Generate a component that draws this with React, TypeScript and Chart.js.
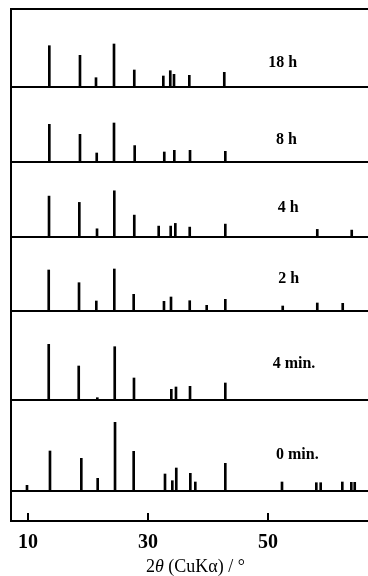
import React, { useEffect, useRef } from "react";
import { Chart, registerables } from "chart.js";

Chart.register(...registerables);

// ---- Data (2θ positions in degrees, relative intensities in arb. units) ----
const panelLabels = ["18 h", "8 h", "4 h", "2 h", "4 min.", "0 min."];

const pos18h = [13.57, 18.68, 21.35, 24.35, 27.73, 32.57, 33.73, 34.35, 36.9, 42.73];
const int18h = [41.3, 31.7, 9.3, 43, 17, 11, 16.3, 12.7, 11.7, 14.7];

const pos8h = [13.57, 18.68, 21.47, 24.35, 27.8, 32.73, 34.4, 37.02, 42.9];
const int8h = [38, 28, 9.3, 39.3, 16.7, 10.3, 12, 12, 11];

const pos4h = [13.52, 18.57, 21.52, 24.4, 27.73, 31.8, 33.8, 34.57, 36.97, 42.9, 58.23, 63.97];
const int4h = [40.5, 34.2, 7.8, 45.8, 21.5, 10.5, 10.5, 13.2, 9.5, 12.5, 7.2, 6.5];

const pos2h = [13.47, 18.52, 21.4, 24.4, 27.63, 32.68, 33.85, 36.97, 39.8, 42.9, 52.47, 58.23, 62.47];
const int2h = [40.7, 28, 9.7, 41.7, 16.4, 9.4, 13.7, 10, 5.4, 11.4, 4.7, 7.7, 7.4];

const pos4min = [13.47, 18.47, 21.57, 24.47, 27.68, 33.9, 34.68, 37.02, 42.9];
const int4min = [56, 34.3, 2.6, 53.6, 22.3, 11, 13.3, 14, 17.3];

const pos0min = [9.85, 13.68, 18.9, 21.63, 24.52, 27.63, 32.85, 34.07, 34.73, 37.07, 37.9, 42.9, 52.35, 58.07, 58.8, 62.4, 63.9, 64.47];
const int0min = [6, 40.3, 33, 13, 69, 40, 17.3, 10.6, 23.3, 18, 9.3, 28, 9.3, 8.6, 8.6, 9.3, 9, 9];

const xTicks = [10, 30, 50];

// ---- Layout (stack offsets of each panel on the shared y scale) ----
const BASELINES = [434, 358.7, 284.4, 210.3, 120.7, 29.7];
const FRAME_LINES = [0, ...BASELINES, 512];
const LABEL_X = [50.07, 51.35, 51.63, 51.73, 50.8, 51.35];
const LABEL_DY = [19.7, 18, 24.6, 28, 32, 32.6];
const X_MIN = (11 + 32.1) / 6;
const X_MAX = (368 + 32.1) / 6;

const panelPositions = [pos18h, pos8h, pos4h, pos2h, pos4min, pos0min];
const panelIntensities = [int18h, int8h, int4h, int2h, int4min, int0min];

const decorPlugin = {
  id: "decor",
  afterDraw(chart: any) {
    const { ctx, chartArea } = chart;
    const x = chart.scales.x;
    const y = chart.scales.y;
    ctx.save();
    ctx.strokeStyle = "#000";
    ctx.lineWidth = 2;
    xTicks.forEach((t) => {
      const px = Math.round(x.getPixelForValue(t));
      ctx.beginPath();
      ctx.moveTo(px, chartArea.bottom);
      ctx.lineTo(px, chartArea.bottom - 8);
      ctx.stroke();
    });
    ctx.fillStyle = "#000";
    ctx.font = 'bold 16px "Liberation Serif", "Times New Roman", serif';
    ctx.textAlign = "left";
    ctx.textBaseline = "alphabetic";
    panelLabels.forEach((lab, i) => {
      ctx.fillText(
        lab,
        x.getPixelForValue(LABEL_X[i]),
        y.getPixelForValue(BASELINES[i] + LABEL_DY[i])
      );
    });
    // axis title
    const parts: [string, string][] = [
      ["2", '18px "Liberation Serif", serif'],
      ["θ", 'italic 18px "Liberation Serif", serif'],
      [" (CuKα) / °", '18px "Liberation Serif", serif'],
    ];
    let cx = 146;
    const by = 572;
    parts.forEach(([t, f]) => {
      ctx.font = f;
      ctx.fillText(t, cx, by);
      cx += ctx.measureText(t).width;
    });
    ctx.restore();
  },
};

export default function App() {
  const ref = useRef<HTMLCanvasElement | null>(null);

  useEffect(() => {
    if (!ref.current) return;
    const datasets = panelPositions.map((pos, i) => ({
      label: panelLabels[i],
      data: pos.map((p, j) => ({ x: p, y: [BASELINES[i], BASELINES[i] + panelIntensities[i][j]] })),
      backgroundColor: "#000",
      borderWidth: 0,
      barThickness: 2,
      grouped: false,
    }));
    const chart = new Chart(ref.current, {
      type: "bar",
      data: { datasets } as any,
      plugins: [decorPlugin],
      options: {
        animation: false,
        responsive: false,
        layout: { padding: { left: 11, top: 9, right: 0, bottom: 0 } },
        plugins: { legend: { display: false }, tooltip: { enabled: false } },
        scales: {
          x: {
            type: "linear",
            min: X_MIN,
            max: X_MAX,
            offset: false,
            grid: { display: false, drawTicks: false, offset: false },
            border: { display: false },
            afterBuildTicks: (s: any) => {
              s.ticks = xTicks.map((v) => ({ value: v }));
            },
            afterFit: (s: any) => {
              s.height = 55;
            },
            ticks: {
              padding: 10,
              color: "#000",
              maxRotation: 0,
              autoSkip: false,
              font: { family: '"Liberation Serif", "Times New Roman", serif', size: 20, weight: "bold" },
            },
          },
          y: {
            type: "linear",
            min: 0,
            max: 512,
            afterBuildTicks: (s: any) => {
              s.ticks = FRAME_LINES.map((v) => ({ value: v }));
            },
            afterFit: (s: any) => {
              s.width = 0;
            },
            ticks: { display: false },
            grid: { color: "#000", lineWidth: 2, drawTicks: false },
            border: { display: true, color: "#000", width: 2 },
          },
        },
      } as any,
    });
    return () => chart.destroy();
  }, []);

  return (
    <div style={{ position: "absolute", left: 0, top: 0, width: 368, height: 576, background: "#fff" }}>
      <canvas ref={ref} width={368} height={576} style={{ display: "block" }} />
    </div>
  );
}
